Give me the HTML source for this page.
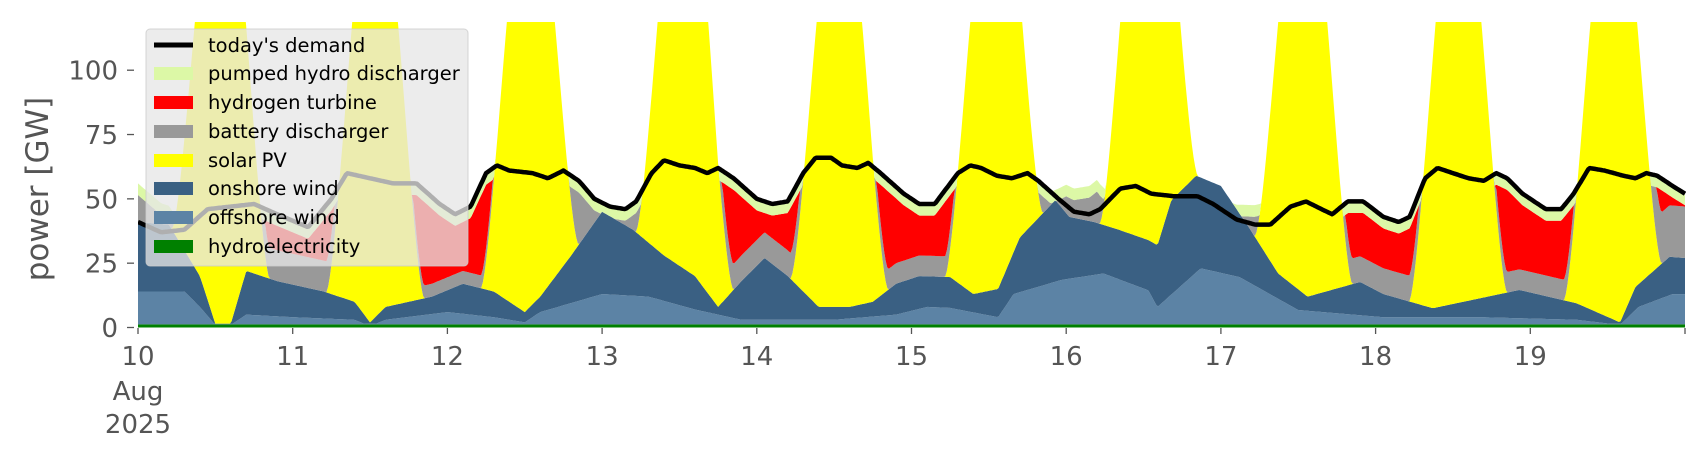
<!DOCTYPE html>
<html><head><meta charset="utf-8"><style>
html,body{margin:0;padding:0;background:#fff;}
svg{display:block;font-family:"DejaVu Sans","Liberation Sans",sans-serif;}
</style></head><body>
<svg id="s" width="1706" height="460" viewBox="0 0 1706 460" xmlns="http://www.w3.org/2000/svg">
<defs><clipPath id="c"><rect x="138" y="22" width="1548" height="306"/></clipPath></defs>
<g id="layers" clip-path="url(#c)"></g>
<g id="ax" fill="#555" font-size="26"></g>
<text x="0" y="0" font-size="31" fill="#555" text-anchor="middle" transform="translate(48,189) rotate(-90)">power [GW]</text>
<g id="leg">
<rect x="146" y="29" width="322" height="237" rx="4" fill="#e6e6e6" fill-opacity="0.76" stroke="#cccccc" stroke-opacity="0.8"/>
<line x1="154" y1="45" x2="193" y2="45" stroke="#000" stroke-width="5"/>
<rect x="154" y="67" width="39" height="13" fill="#dcf8a6"/>
<rect x="154" y="96" width="39" height="13" fill="#ff0000"/>
<rect x="154" y="125" width="39" height="13" fill="#999999"/>
<rect x="154" y="154" width="39" height="13" fill="#ffff00"/>
<rect x="154" y="182" width="39" height="13" fill="#3a6083"/>
<rect x="154" y="211" width="39" height="13" fill="#5c83a5"/>
<rect x="154" y="240" width="39" height="13" fill="#008000"/>
<g font-size="19.5" fill="#000">
<text x="208" y="52">today's demand</text>
<text x="208" y="80">pumped hydro discharger</text>
<text x="208" y="109">hydrogen turbine</text>
<text x="208" y="138">battery discharger</text>
<text x="208" y="167">solar PV</text>
<text x="208" y="195">onshore wind</text>
<text x="208" y="224">offshore wind</text>
<text x="208" y="253">hydroelectricity</text>
</g></g>
</svg>
<script>
function X(d){return 138+(d-10)*154.7;}
function Y(v){return 327.5-v*2.573;}
function I(a,t){if(t<=a[0])return a[1];for(var i=0;i<a.length-2;i+=2){if(t<=a[i+2]){var f=(t-a[i])/(a[i+2]-a[i]);return a[i+1]+f*(a[i+3]-a[i+1]);}}return a[a.length-1];}
var dem=[10.0,41,10.15,37,10.3,38,10.45,46,10.6,47,10.75,48,10.9,44,11.1,39,11.25,50,11.35,60,11.5,58,11.65,56,11.8,56,11.95,48,12.05,44,12.15,47,12.25,60,12.32,63,12.4,61,12.55,60,12.65,58,12.75,61,12.85,57,12.95,50,13.05,47,13.15,46,13.22,49,13.32,60,13.4,65,13.5,63,13.6,62,13.68,60,13.75,62,13.85,58,14.0,50,14.1,48,14.2,49,14.3,60,14.38,66,14.48,66,14.55,63,14.65,62,14.72,64,14.8,60,14.95,52,15.05,48,15.15,48,15.3,60,15.38,63,15.45,62,15.55,59,15.65,58,15.75,60,15.82,57,15.95,50,16.05,45,16.15,44,16.22,46,16.35,54,16.45,55,16.55,52,16.7,51,16.85,51,16.95,48,17.1,42,17.22,40,17.32,40,17.45,47,17.55,49,17.65,46,17.72,44,17.82,49,17.92,49,18.05,43,18.15,41,18.22,43,18.32,58,18.4,62,18.5,60,18.6,58,18.7,57,18.78,60,18.85,58,18.95,52,19.1,46,19.2,46,19.28,52,19.38,62,19.48,61,19.6,59,19.68,58,19.75,60,19.82,59,19.92,55,20.0,52];
var off=[10.0,14,10.3,14,10.4,8,10.5,1,10.6,1,10.7,5,11.0,4,11.4,3,11.5,0.5,11.6,3,12.0,6,12.3,4,12.5,2,12.6,6,13.0,13,13.3,12,13.6,7,13.9,3,14.2,3,14.5,3,14.9,5,15.1,8,15.25,7.6,15.56,4,15.66,13,15.97,18.5,16.24,21,16.53,14.5,16.59,8,16.87,23,17.12,19.6,17.5,6.8,18.05,4,18.68,4,19.3,3,19.58,1,19.7,8,19.92,13,20,13];
var on=[10.0,41,10.2,40,10.3,30,10.4,20,10.5,1.5,10.6,1.5,10.7,22,10.9,18,11.2,14,11.4,10,11.5,2,11.6,8,11.9,12,12.1,17,12.3,14,12.5,6,12.6,12,12.8,28,13.0,45,13.2,38,13.4,28,13.6,20,13.75,8,13.9,18,14.05,27,14.2,20,14.4,8,14.6,8,14.75,10,14.9,17,15.05,20,15.25,19.6,15.4,13,15.56,15,15.7,35,15.93,49.5,16.02,43,16.18,41,16.34,38,16.53,34,16.59,32,16.68,49.5,16.84,59,17.0,55,17.18,39,17.37,21,17.56,12,17.9,17.7,18.05,13,18.37,7.5,18.93,14.6,19.3,9.4,19.58,2,19.68,15.8,19.9,27.5,20,27];
var ext=[10.0,15,10.2,10,10.3,0,15.9,0,16.0,8,16.2,12,16.3,0,16.95,0,17.05,5,17.25,8,17.35,0,20,0];
var bc=[10.0,30,10.5,30,10.6,12,11.5,12,11.6,5,12.5,5,12.6,40,13.5,40,13.6,10,14.5,10,14.6,8,15.5,8,15.6,40,17.5,40,17.6,10,18.5,10,18.6,8,19.5,8,19.6,20,20,20];
var T=[],Lh=[],Lo=[],Ln=[],Ls=[],Lb=[],Lr=[],Lp=[],Ld=[];
for(var k=0;k<=960;k++){var t=10+k/96;T.push(t);
var h=((t-10)%1)*24,s=0;if(h>5.2&&h<20.4){s=170*Math.pow(Math.sin(Math.PI*(h-5.2)/15.2),1.5);}
var hy=1.2,o=Math.max(hy+0.3,I(off,t)),n=Math.max(o,I(on,t)),so=n+s;
var d=I(dem,t),tg=d+I(ext,t),gap=Math.max(0,tg-so),p=Math.min(gap,4.5),r=gap-p,b=Math.min(r,I(bc,t)),r2=r-b;
Lh.push(hy);Lo.push(o);Ln.push(n);Ls.push(so);Lb.push(so+b);Lr.push(so+b+r2);Lp.push(so+b+r2+p);Ld.push(d);}
var zero=T.map(function(){return 0;});
function poly(top,bot,col){var s="";for(var i=0;i<T.length;i++)s+=X(T[i]).toFixed(1)+","+Y(top[i]).toFixed(1)+" ";for(var i=T.length-1;i>=0;i--)s+=X(T[i]).toFixed(1)+","+Y(bot[i]).toFixed(1)+" ";return '<polygon points="'+s+'" fill="'+col+'"/>';}
var g="";
g+=poly(Lh,zero,"#008000");g+=poly(Lo,Lh,"#5c83a5");g+=poly(Ln,Lo,"#3a6083");g+=poly(Ls,Ln,"#ffff00");
g+=poly(Lb,Ls,"#999999");g+=poly(Lr,Lb,"#ff0000");g+=poly(Lp,Lr,"#dcf8a6");
var s="";for(var i=0;i<T.length;i++)s+=X(T[i]).toFixed(1)+","+Y(Ld[i]).toFixed(1)+" ";
g+='<polyline points="'+s+'" fill="none" stroke="#000" stroke-width="4.5" stroke-linejoin="round"/>';
document.getElementById("layers").innerHTML=g;
var a="";
[[0,""],[25,""],[50,""],[75,""],[100,""]].forEach(function(v){var y=Y(v[0]);a+='<line x1="127" y1="'+y+'" x2="134" y2="'+y+'" stroke="#555" stroke-width="1.3"/><text x="118" y="'+(y+9.5)+'" text-anchor="end">'+v[0]+'</text>';});
for(var d=10;d<=20;d++){var x=X(d);a+='<line x1="'+x+'" y1="328" x2="'+x+'" y2="334" stroke="#555" stroke-width="1.3"/>';if(d<20)a+='<text x="'+x+'" y="365" text-anchor="middle">'+d+'</text>';}
a+='<text x="'+X(10)+'" y="400" text-anchor="middle">Aug</text><text x="'+X(10)+'" y="433" text-anchor="middle">2025</text>';
document.getElementById("ax").innerHTML=a;
</script>
</body></html>
